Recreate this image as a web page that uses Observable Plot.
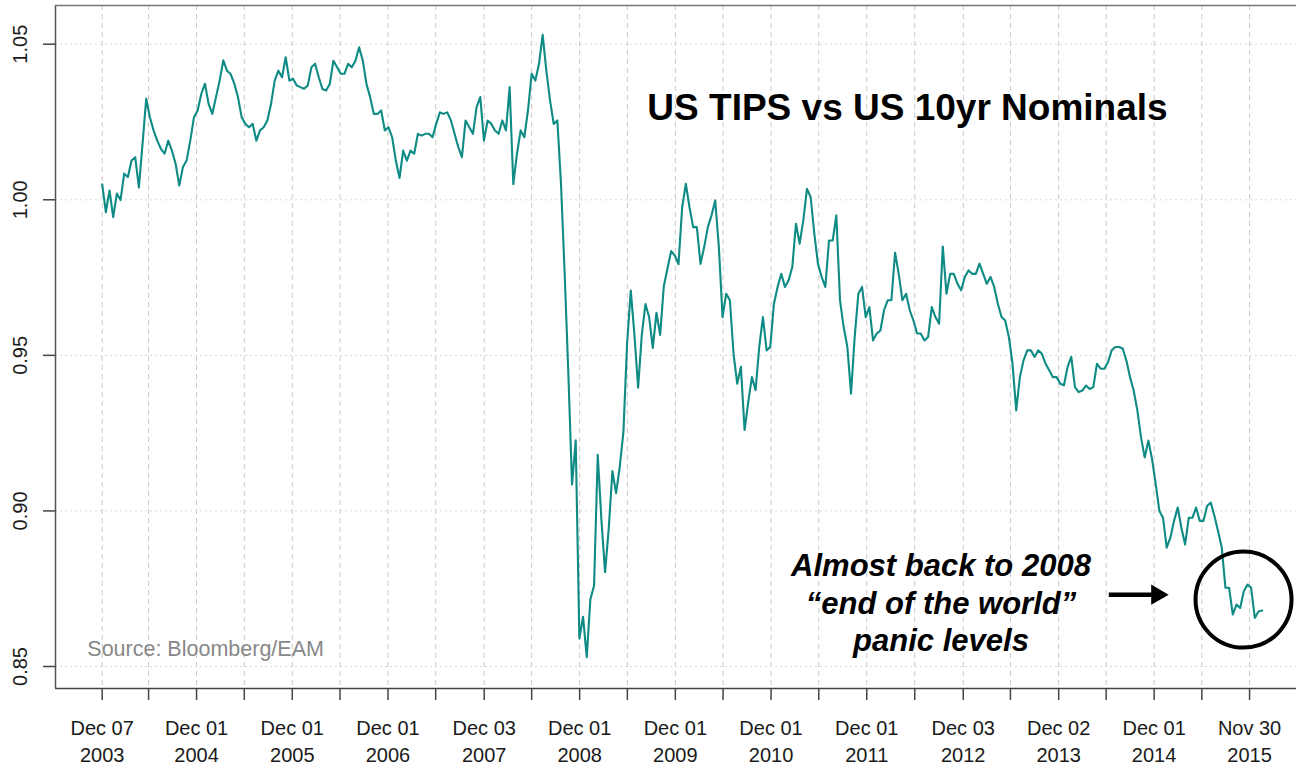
<!DOCTYPE html>
<html>
<head>
<meta charset="utf-8">
<script src="https://cdn.jsdelivr.net/npm/d3@7"></script>
<script src="https://cdn.jsdelivr.net/npm/@observablehq/plot@0.6"></script>
<style>
  html, body { margin: 0; padding: 0; background: #fff; overflow: hidden; }
  #wrap { position: relative; width: 1296px; height: 764px; font-family: 'Liberation Sans', Arial, Helvetica, sans-serif; }
  #wrap svg { position: absolute; left: 0; top: 0; }
  .title { position: absolute; left: 907.5px; top: 88.7px; transform: translateX(-50%); font-weight: bold; font-size: 37px; line-height: 37px; white-space: nowrap; color: #000; }
  .note { position: absolute; left: 941px; top: 547.3px; transform: translateX(-50%); font-weight: bold; font-style: italic; font-size: 31px; line-height: 37.2px; text-align: center; white-space: nowrap; color: #000; }
  .source { position: absolute; left: 87.3px; top: 639.1px; font-size: 21.5px; line-height: 21.5px; white-space: nowrap; color: #888; }
</style>
</head>
<body>
<div id="wrap"></div>
<script>
// ---- data ----
const startDate = "2003-12-07";   // first observation
const stepDays = 14;               // sampling interval of the values below
const values = [
  1.005, 0.996, 1.003, 0.9944, 1.002, 0.9999, 1.0084, 1.0073, 1.0126, 1.0137,
  1.004, 1.018, 1.0325, 1.0265, 1.0223, 1.019, 1.0164, 1.0148, 1.019, 1.0158,
  1.0116, 1.0046, 1.0105, 1.0126, 1.019, 1.0265, 1.0287, 1.034, 1.0373, 1.0308,
  1.0276, 1.033, 1.0383, 1.0448, 1.0415, 1.0404, 1.0373, 1.033, 1.0265, 1.0244,
  1.0233, 1.0244, 1.019, 1.0223, 1.0233, 1.0255, 1.0308, 1.0383, 1.0415, 1.0394,
  1.0458, 1.0383, 1.0389, 1.0367, 1.0362, 1.0357,
  1.0367, 1.0426, 1.0437, 1.0394, 1.0356, 1.0351, 1.0372, 1.0447, 1.0426, 1.0405,
  1.0405, 1.0437, 1.0426, 1.0447, 1.049, 1.0447, 1.0372, 1.033, 1.0276, 1.0276,
  1.0287, 1.0223, 1.0233, 1.0201, 1.0126, 1.007, 1.0158, 1.0126, 1.0158, 1.0148,
  1.0212, 1.0206, 1.0212, 1.0212, 1.0201, 1.0244, 1.0281, 1.0276, 1.0281, 1.0255,
  1.0212, 1.017, 1.0137, 1.0255, 1.0233, 1.0212, 1.0298, 1.033, 1.019, 1.0255,
  1.0244, 1.0223, 1.0212, 1.0255, 1.0223, 1.0362, 1.005, 1.0148, 1.0223, 1.0201,
  1.0287, 1.0405, 1.0383, 1.0437, 1.053, 1.0415, 1.032, 1.0244, 1.0255, 1.005,
  0.976, 0.944, 0.9085, 0.9227, 0.859, 0.866, 0.853, 0.8716, 0.876, 0.918,
  0.8972, 0.8803, 0.8944, 0.9128, 0.9057, 0.9142, 0.9255, 0.9538, 0.9708, 0.9566,
  0.9396, 0.9566, 0.9665, 0.9623, 0.9524, 0.9637, 0.9566, 0.9722, 0.9779, 0.9835,
  0.9821, 0.9793,
  0.9976, 1.0051, 0.9976, 0.9912, 0.9912, 0.9794, 0.9848, 0.9912, 0.995, 0.9998,
  0.9848, 0.9623, 0.9698, 0.9677, 0.9505, 0.9409, 0.9463, 0.926, 0.935, 0.943,
  0.9388, 0.9527, 0.9623, 0.9516, 0.9527, 0.9666, 0.972, 0.9762, 0.972, 0.9741,
  0.9784, 0.9923, 0.9859, 0.9934, 1.0035, 1.0009, 0.9891, 0.9794, 0.9752, 0.972,
  0.9869, 0.9869, 0.995, 0.9677, 0.9591, 0.9527, 0.9377, 0.9559, 0.9698, 0.972,
  0.9623, 0.9655, 0.9548, 0.957,
  0.958, 0.9645, 0.9677, 0.9677, 0.983, 0.9762, 0.9677, 0.9698, 0.9645, 0.9612,
  0.957, 0.957, 0.9548, 0.9559, 0.9655, 0.9623, 0.9602, 0.985, 0.9698, 0.9762,
  0.9762, 0.973, 0.9709, 0.9752, 0.9773, 0.9762, 0.9762, 0.9795, 0.9762, 0.973,
  0.9752, 0.972, 0.9666, 0.9623, 0.9612, 0.9559, 0.9473, 0.9323, 0.943, 0.9484,
  0.9516, 0.9516, 0.9495, 0.9516, 0.9505, 0.9473, 0.9452, 0.943, 0.943, 0.9409,
  0.9404, 0.9463,
  0.9495, 0.9398, 0.9382, 0.9387, 0.9403, 0.9392, 0.9398, 0.9473, 0.9457, 0.9457,
  0.9478, 0.9516, 0.9527, 0.9527, 0.9522, 0.9484, 0.943, 0.9387, 0.9323, 0.9237,
  0.9172, 0.9226, 0.9167, 0.9086, 0.9, 0.8978, 0.8882, 0.8914, 0.8968, 0.9011,
  0.8946, 0.8892, 0.8978, 0.8978, 0.9011, 0.8968, 0.8968, 0.9016, 0.9027, 0.8984,
  0.8935, 0.8882, 0.8753, 0.8753, 0.8667, 0.8699, 0.8688, 0.8742, 0.8763, 0.8753,
  0.8656, 0.8677, 0.868
];

const tickDates = ["2003-12-07", "2004-12-01", "2005-12-01", "2006-12-01", "2007-12-03",
  "2008-12-01", "2009-12-01", "2010-12-01", "2011-12-01", "2012-12-03", "2013-12-02",
  "2014-12-01", "2015-11-30"];
const tickLabels = ["Dec 07\n2003", "Dec 01\n2004", "Dec 01\n2005", "Dec 01\n2006", "Dec 03\n2007",
  "Dec 01\n2008", "Dec 01\n2009", "Dec 01\n2010", "Dec 01\n2011", "Dec 03\n2012", "Dec 02\n2013",
  "Dec 01\n2014", "Nov 30\n2015"];
const minorTickDates = ["2004-06-01", "2005-06-01", "2006-06-01", "2007-06-01", "2008-06-01",
  "2009-06-01", "2010-06-01", "2011-06-01", "2012-06-01", "2013-06-01", "2014-06-01", "2015-06-01"];
const yTicks = [0.85, 0.90, 0.95, 1.00, 1.05];
const yTickLabels = ["0.85", "0.90", "0.95", "1.00", "1.05"];

const xDomainDates = ["2003-06-12", "2016-05-27"];
const yDomain = [0.84293, 1.06244];

const titleText = "US TIPS vs US 10yr Nominals";
const sourceText = "Source: Bloomberg/EAM";
const noteLines = ["Almost back to 2008", "\u201Cend of the world\u201D", "panic levels"];
const circleAt = [{date: "2015-11-07", value: 0.8715}];
const arrowFrom = [{date: "2014-06-11", value: 0.8731}];
const arrowHeadAt = [{date: "2014-12-12", value: 0.8731}];

// ---- build ----
const parse = d3.utcParse("%Y-%m-%d");
const t0 = parse(startDate);
const series = values.map((v, i) => ({date: d3.utcDay.offset(t0, i * stepDays), value: v}));
const majors = tickDates.map(parse);
const allTicks = majors.concat(minorTickDates.map(parse)).sort((a, b) => a - b);
const xDomain = xDomainDates.map(parse);
const circ = circleAt.map(d => ({date: parse(d.date), value: d.value}));
const arrowLink = [{x1: parse(arrowFrom[0].date), y1: arrowFrom[0].value, x2: parse(arrowHeadAt[0].date), y2: arrowHeadAt[0].value}];
const head = arrowHeadAt.map(d => ({date: parse(d.date), value: d.value}));

const font = "'Liberation Sans', Arial, Helvetica, sans-serif";

const chart = Plot.plot({
  width: 1296,
  height: 764,
  marginLeft: 55,
  marginRight: 0,
  marginTop: 5,
  marginBottom: 76,
  style: {fontFamily: font, background: "transparent", overflow: "visible"},
  x: {type: "utc", domain: xDomain, axis: null},
  y: {domain: yDomain, axis: null},
  marks: [
    Plot.gridX({ticks: allTicks, stroke: "#c9c9c9", strokeOpacity: 1, strokeWidth: 1, strokeDasharray: "5,4"}),
    Plot.gridY({ticks: yTicks, stroke: "#d9d9d9", strokeOpacity: 1, strokeWidth: 1, strokeDasharray: "2,3"}),
    Plot.line(series, {x: "date", y: "value", stroke: "#0e8b84", strokeWidth: 2.1}),
    Plot.ruleX([xDomain[0]], {stroke: "#555", strokeWidth: 1.5}),
    Plot.ruleY([yDomain[0]], {stroke: "#444", strokeWidth: 1.5}),
    Plot.ruleY([yDomain[1]], {stroke: "#777", strokeWidth: 1.5}),
    Plot.axisX({ticks: allTicks, anchor: "bottom", tickSize: 12, tickFormat: () => "", label: null, stroke: "#444", strokeWidth: 1.5}),
    Plot.axisY({ticks: yTicks, anchor: "left", tickSize: 12, tickFormat: () => "", label: null, stroke: "#444", strokeWidth: 1.5}),
    Plot.text(majors, {x: d => d, frameAnchor: "bottom", text: (d, i) => tickLabels[i], lineAnchor: "top", lineHeight: 1.35, dy: 27, fontSize: 20, fill: "#1a1a1a"}),
    Plot.text(yTicks, {y: d => d, frameAnchor: "left", text: (d, i) => yTickLabels[i], rotate: -90, textAnchor: "middle", lineAnchor: "middle", dx: -35, fontSize: 20, fill: "#1a1a1a"}),
    Plot.dot(circ, {x: "date", y: "value", r: 48, stroke: "#000", strokeWidth: 4, fill: "none"}),
    Plot.link(arrowLink, {x1: "x1", y1: "y1", x2: "x2", y2: "y2", stroke: "#000", strokeWidth: 4.5}),
    Plot.dot(head, {x: "date", y: "value", symbol: "triangle", r: 7.5, rotate: 90, fill: "#000", stroke: "none"})
  ]
});

const wrap = document.getElementById("wrap");
wrap.appendChild(chart);

const t = document.createElement("div");
t.className = "title";
t.textContent = titleText;
wrap.appendChild(t);

const n = document.createElement("div");
n.className = "note";
n.innerHTML = noteLines.map(s => s.replace(/&/g, "&amp;").replace(/</g, "&lt;")).join("<br>");
wrap.appendChild(n);

const s = document.createElement("div");
s.className = "source";
s.textContent = sourceText;
wrap.appendChild(s);
</script>
</body>
</html>
